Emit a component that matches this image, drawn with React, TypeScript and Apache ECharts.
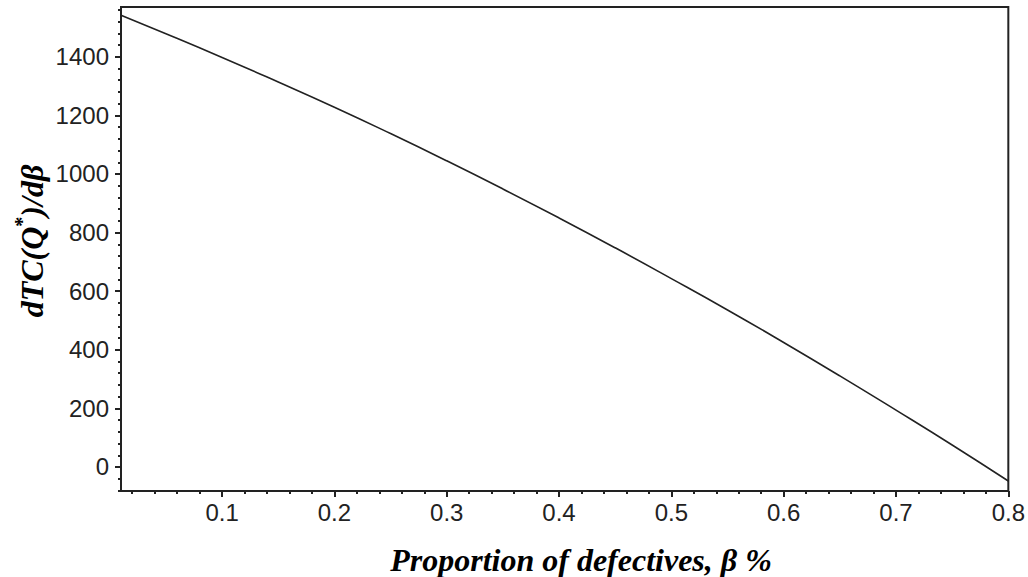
import React, { useEffect, useRef } from "react";
import * as echarts from "echarts";

// Proportion of defectives (beta) and dTC(Q*)/dbeta
const betaValues = [0.01, 0.05, 0.1, 0.15, 0.2, 0.25, 0.3, 0.35, 0.4, 0.45, 0.5, 0.55, 0.6, 0.65, 0.7, 0.75, 0.8];
const dTCValues = [1542, 1479, 1398, 1314, 1228, 1138, 1045, 949, 850, 748, 643, 536, 425, 311, 194, 75, -48];

const xMajorTicks = [0.1, 0.2, 0.3, 0.4, 0.5, 0.6, 0.7, 0.8];
const xMinorTicks = [0.02, 0.04, 0.06, 0.08, 0.12, 0.14, 0.16, 0.18, 0.22, 0.24, 0.26, 0.28, 0.32, 0.34, 0.36, 0.38, 0.42, 0.44, 0.46, 0.48, 0.52, 0.54, 0.56, 0.58, 0.62, 0.64, 0.66, 0.68, 0.72, 0.74, 0.76, 0.78];
const yMajorTicks = [0, 200, 400, 600, 800, 1000, 1200, 1400];
const yMinorTicks = [-80, -40, 40, 80, 120, 160, 240, 280, 320, 360, 440, 480, 520, 560, 640, 680, 720, 760, 840, 880, 920, 960, 1040, 1080, 1120, 1160, 1240, 1280, 1320, 1360, 1440, 1480, 1520, 1560];

const X_MIN = 0.01;
const X_MAX = 0.8;
const Y_MIN = -82;
const Y_MAX = 1570;

const xTitle = "Proportion of defectives, β %";

export default function App() {
  const ref = useRef<HTMLDivElement>(null);

  useEffect(() => {
    if (!ref.current) return;
    const chart = echarts.init(ref.current, null, { renderer: "svg" });
    const axisColor = "#222";
    const labelFont = { fontFamily: "Liberation Sans, Arial, sans-serif", fontSize: 24, color: "#222" };
    const titleFont = "Liberation Serif, Times New Roman, serif";

    chart.setOption({
      animation: false,
      backgroundColor: "#fff",
      grid: {
        left: 121,
        right: 19,
        top: 7,
        bottom: 86,
        show: true,
        borderColor: axisColor,
        borderWidth: 2,
        backgroundColor: "transparent",
      },
      xAxis: [
        {
          type: "value",
          min: X_MIN,
          max: X_MAX,
          position: "bottom",
          axisLine: { show: false, onZero: false },
          splitLine: { show: false },
          axisTick: { show: true, inside: false, length: 6, customValues: xMajorTicks, lineStyle: { color: axisColor, width: 2 } },
          axisLabel: {
            show: true,
            customValues: xMajorTicks,
            margin: 9,
            ...labelFont,
            formatter: (v: number) => String(Math.round(v * 10) / 10),
          },
        },
        {
          type: "value",
          min: X_MIN,
          max: X_MAX,
          position: "bottom",
          axisLine: { show: false, onZero: false },
          splitLine: { show: false },
          axisTick: { show: true, inside: false, length: 3, customValues: xMinorTicks, lineStyle: { color: axisColor, width: 2 } },
          axisLabel: { show: false },
        },
      ],
      yAxis: [
        {
          type: "value",
          min: Y_MIN,
          max: Y_MAX,
          position: "left",
          axisLine: { show: false, onZero: false },
          splitLine: { show: false },
          axisTick: { show: true, inside: false, length: 6, customValues: yMajorTicks, lineStyle: { color: axisColor, width: 2 } },
          axisLabel: { show: true, customValues: yMajorTicks, margin: 12, ...labelFont, formatter: (v: number) => String(v) },
        },
        {
          type: "value",
          min: Y_MIN,
          max: Y_MAX,
          position: "left",
          axisLine: { show: false, onZero: false },
          splitLine: { show: false },
          axisTick: { show: true, inside: false, length: 3, customValues: yMinorTicks, lineStyle: { color: axisColor, width: 2 } },
          axisLabel: { show: false },
        },
      ],
      series: [
        {
          type: "line",
          xAxisIndex: 0,
          yAxisIndex: 0,
          data: betaValues.map((b, i) => [b, dTCValues[i]]),
          showSymbol: false,
          smooth: true,
          lineStyle: { color: "#222", width: 1.6 },
        },
      ],
      graphic: [
        {
          type: "text",
          x: 581,
          y: 576,
          style: {
            text: xTitle,
            font: `bold italic 32px ${titleFont}`,
            fill: "#000",
            textAlign: "center",
            textVerticalAlign: "bottom",
          },
        },
        {
          type: "text",
          x: 30,
          y: 241,
          rotation: Math.PI / 2,
          style: {
            text: "{a|dTC(Q}{s|*}{a|)/dβ}",
            fill: "#000",
            align: "center",
            verticalAlign: "middle",
            rich: {
              a: { font: `bold italic 32px ${titleFont}`, fill: "#000", verticalAlign: "bottom", lineHeight: 36 },
              s: { font: `bold 20px ${titleFont}`, fill: "#000", verticalAlign: "top", lineHeight: 36 },
            },
          },
        },
      ],
    });

    return () => chart.dispose();
  }, []);

  return (
    <div
      ref={ref}
      style={{ position: "fixed", left: 0, top: 0, width: 1028, height: 577, background: "#fff" }}
    />
  );
}
